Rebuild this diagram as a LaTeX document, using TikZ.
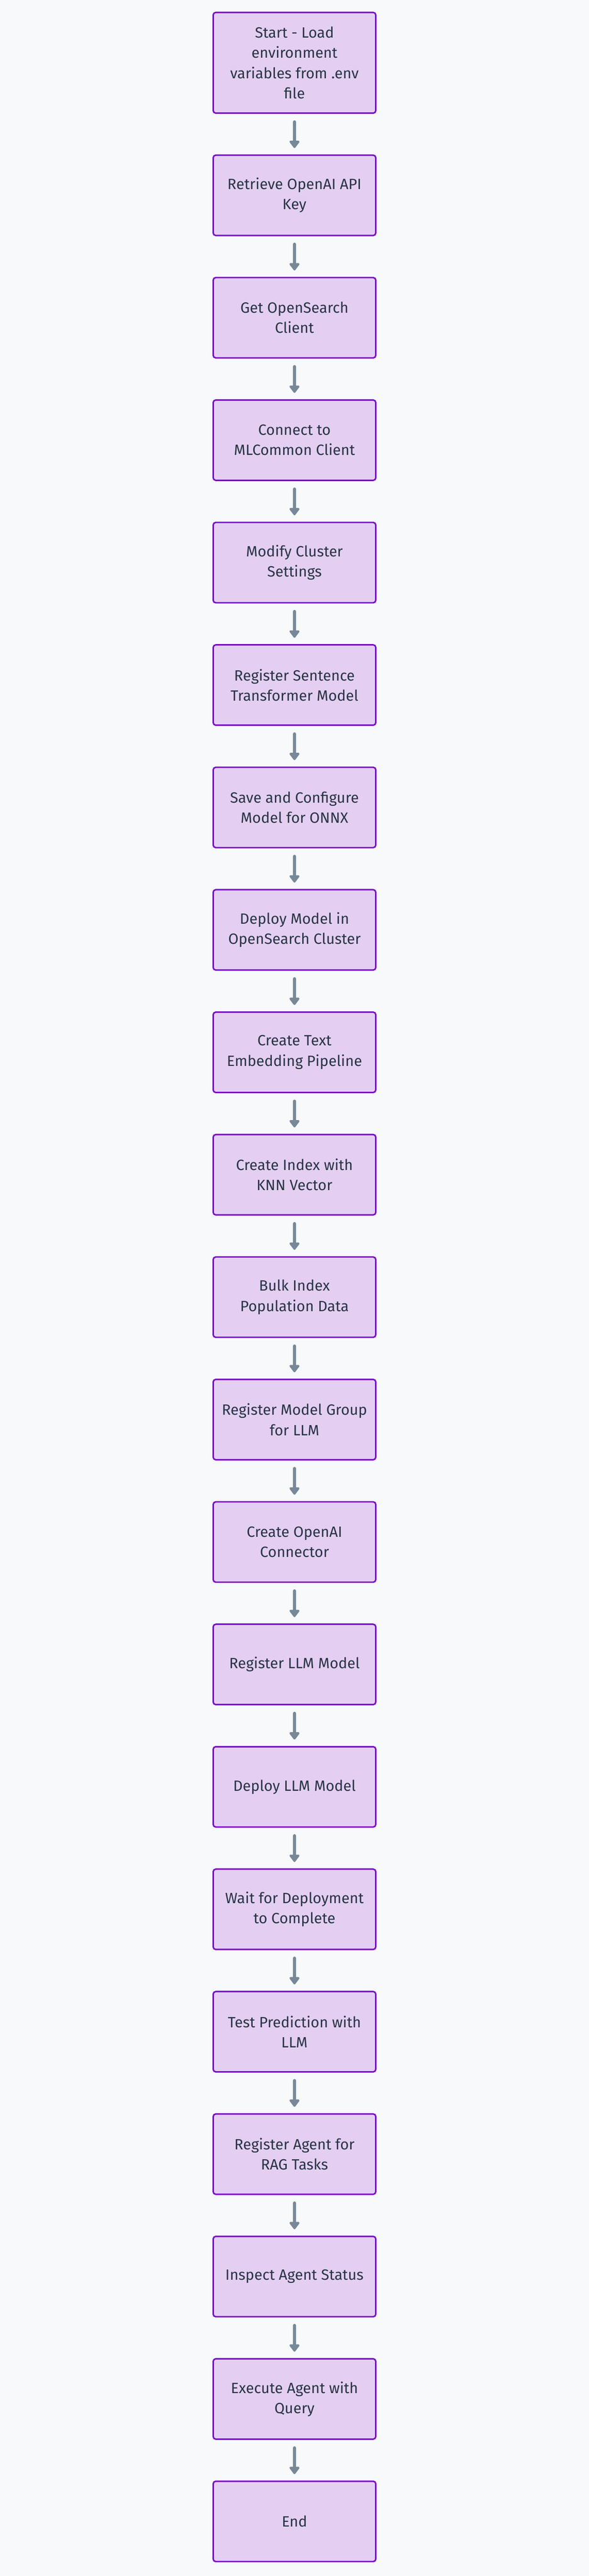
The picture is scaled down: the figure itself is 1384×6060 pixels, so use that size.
\documentclass[tikz,border=0pt]{standalone}
\usepackage{fontspec}
\setmainfont{Fira Sans}
\usetikzlibrary{arrows.meta}
\definecolor{bgc}{RGB}{248,249,251}
\definecolor{boxfill}{RGB}{228,207,243}
\definecolor{boxline}{RGB}{121,16,199}
\definecolor{arrc}{RGB}{119,136,153}
\definecolor{txtc}{RGB}{40,53,67}
\tikzset{
  stepbox/.style={rectangle, rounded corners=6pt, draw=boxline, line width=3.5pt,
    fill=boxfill, text=txtc, align=center, minimum width=382pt, minimum height=189pt,
    inner sep=0pt, font=\fontsize{35}{47.5}\selectfont},
  flowarr/.style={draw=arrc, line width=8pt, line cap=round,
    -{Triangle[length=19pt,width=27pt,round]}, shorten <=19pt, shorten >=15pt}
}
\begin{document}
\begin{tikzpicture}[x=1pt,y=-1pt]
\fill[bgc] (0,0) rectangle (1384,6060);
\useasboundingbox (0,0) rectangle (1384,6060);
\node[stepbox, minimum height=237pt] (n0) at (692,147.75) {Start - Load\\environment\\variables from .env\\file};
\node[stepbox] (n1) at (692,459.5) {Retrieve OpenAI API\\Key};
\node[stepbox] (n2) at (692,747.5) {Get OpenSearch\\Client};
\node[stepbox] (n3) at (692,1035.5) {Connect to\\MLCommon Client};
\node[stepbox] (n4) at (692,1323.5) {Modify Cluster\\Settings};
\node[stepbox] (n5) at (692,1611.5) {Register Sentence\\Transformer Model};
\node[stepbox] (n6) at (692,1899.5) {Save and Configure\\Model for ONNX};
\node[stepbox] (n7) at (692,2187.5) {Deploy Model in\\OpenSearch Cluster};
\node[stepbox] (n8) at (692,2475.5) {Create Text\\Embedding Pipeline};
\node[stepbox] (n9) at (692,2763.5) {Create Index with\\KNN Vector};
\node[stepbox] (n10) at (692,3051.5) {Bulk Index\\Population Data};
\node[stepbox] (n11) at (692,3339.5) {Register Model Group\\for LLM};
\node[stepbox] (n12) at (692,3627.5) {Create OpenAI\\Connector};
\node[stepbox] (n13) at (692,3915.5) {Register LLM Model};
\node[stepbox] (n14) at (692,4203.5) {Deploy LLM Model};
\node[stepbox] (n15) at (692,4491.5) {Wait for Deployment\\to Complete};
\node[stepbox] (n16) at (692,4779.5) {Test Prediction with\\LLM};
\node[stepbox] (n17) at (692,5067.5) {Register Agent for\\RAG Tasks};
\node[stepbox] (n18) at (692,5355.5) {Inspect Agent Status};
\node[stepbox] (n19) at (692,5643.5) {Execute Agent with\\Query};
\node[stepbox] (n20) at (692,5931.5) {End};
\foreach \a/\b in {n0/n1,n1/n2,n2/n3,n3/n4,n4/n5,n5/n6,n6/n7,n7/n8,n8/n9,n9/n10,n10/n11,n11/n12,n12/n13,n13/n14,n14/n15,n15/n16,n16/n17,n17/n18,n18/n19,n19/n20}
  \draw[flowarr] (\a.south) -- (\b.north);
\end{tikzpicture}
\end{document}
